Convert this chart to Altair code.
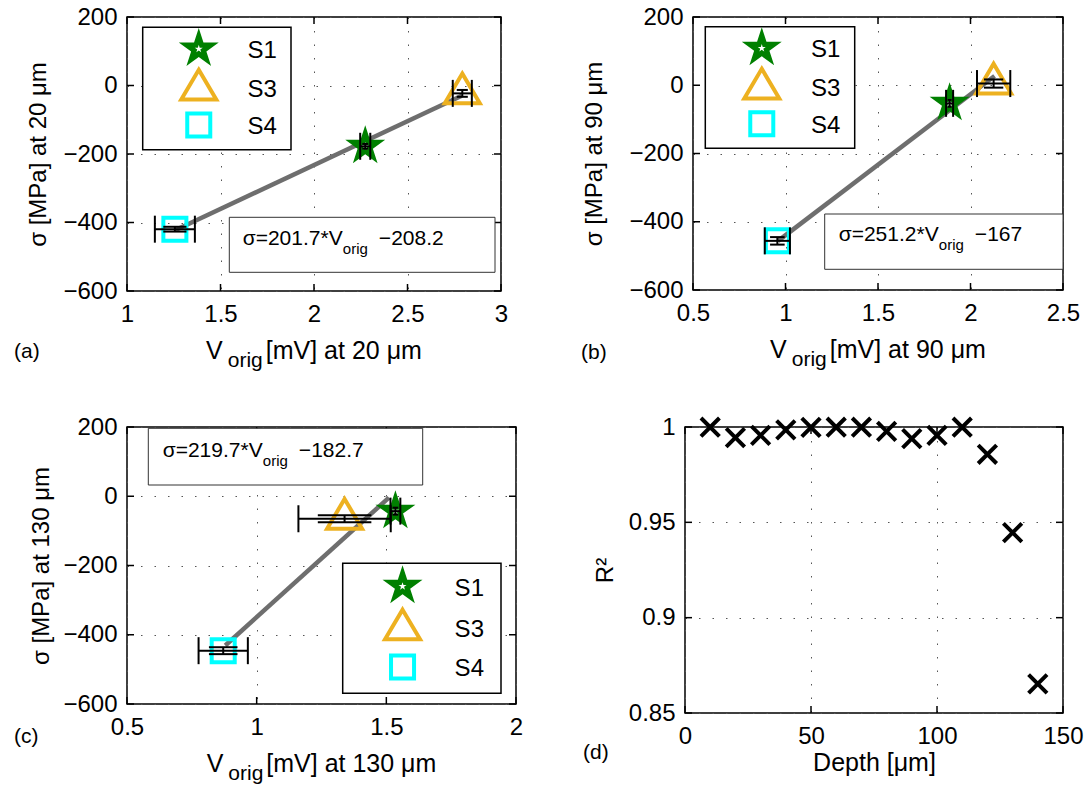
import math
import altair as alt
import pandas as pd

FONT = "Liberation Sans"
SERIES = ["S1", "S3", "S4"]
GREEN = "#008000"
ORANGE = "#EDB120"
CYAN = "#00FFFF"
GRAY = "#6E6E6E"

# ---------------- panel (a) : 20 um ----------------
A_V = [2.274, 2.793, 1.256]
A_SIGMA = [-177.5, -23.0, -419.5]
A_VERR = [0.027, 0.051, 0.107]
A_SERR = [7, 10, 7]
A_FIT_V = [1.26, 2.79]
A_FIT_SIGMA = [-422, -30]
A_EQ = ["σ=201.7*V", "orig", "−208.2"]
A_XTICKS = [1, 1.5, 2, 2.5, 3]

# ---------------- panel (b) : 90 um ----------------
B_V = [1.887, 2.125, 0.956]
B_SIGMA = [-53, 5, -456]
B_VERR = [0.019, 0.090, 0.068]
B_SERR = [10, 12, 11]
B_FIT_V = [0.96, 2.13]
B_FIT_SIGMA = [-456, 27]
B_EQ = ["σ=251.2*V", "orig", "−167"]
B_XTICKS = [0.5, 1, 1.5, 2, 2.5]

# ---------------- panel (c) : 130 um ----------------
C_V = [1.535, 1.339, 0.871]
C_SIGMA = [-43, -65, -446]
C_VERR = [0.019, 0.178, 0.095]
C_SERR = [10, 10, 10]
C_FIT_V = [0.879, 1.51]
C_FIT_SIGMA = [-431, -4]
C_EQ = ["σ=219.7*V", "orig", "−182.7"]
C_XTICKS = [0.5, 1, 1.5, 2]

SIGMA_TICKS = [-600, -400, -200, 0, 200]

# ---------------- panel (d) : R^2 vs depth ----------------
D_DEPTH = [10, 20, 30, 40, 50, 60, 70, 80, 90, 100, 110, 120, 130, 140]
D_R2 = [0.9999, 0.9944, 0.9956, 0.9985, 0.9998, 0.9999, 0.9999,
        0.9977, 0.9939, 0.9956, 0.9999, 0.9857, 0.9446, 0.8653]
D_XTICKS = [0, 50, 100, 150]
D_YTICKS = [0.85, 0.9, 0.95, 1.0]

# ---------------- styling helpers ----------------
CW = {"σ": 0.58, "=": 0.584, ".": 0.278, "*": 0.389, "V": 0.667, " ": 0.278,
      "−": 0.584, "o": 0.556, "r": 0.333, "i": 0.222, "g": 0.556, "[": 0.278,
      "]": 0.278, "m": 0.833, "a": 0.556, "t": 0.278, "μ": 0.576}


def text_w(s, size):
    return sum(CW.get(ch, 0.556) for ch in s) * size


def star_path(r_in=0.382):
    pts = []
    for k in range(10):
        r = 1.0 if k % 2 == 0 else r_in
        a = -math.pi / 2 + k * math.pi / 5
        pts.append(f"{r * math.cos(a):.4f},{r * math.sin(a):.4f}")
    return "M" + "L".join(pts) + "Z"


STAR = star_path()
TRI = "M0,-1.13L1,0.565L-1,0.565Z"
XSHAPE = "M-1,-1L1,1M-1,1L1,-1"
STAR_SIZE = 1764
TRI_SIZE = 1225
SQ_SIZE = 530
ONE = pd.DataFrame({"k": [0]})


def axis_common(**kw):
    base = dict(grid=True, gridDash=[1.5, 12], gridColor="#555555", gridWidth=1,
                ticks=False, tickSize=0, domain=False, labelFont=FONT,
                labelFontSize=24, labelColor="black", labelOverlap=False)
    base.update(kw)
    return alt.Axis(**base)


def txt(s, x, y, size, align="left", baseline="alphabetic"):
    return alt.Chart(pd.DataFrame({"t": [s]})).mark_text(
        font=FONT, fontSize=size, align=align, baseline=baseline, color="black"
    ).encode(x=alt.value(x), y=alt.value(y), text="t:N")


def inner_ticks(xticks, yticks, X, Y, W, H):
    xt = pd.DataFrame({"t": xticks})
    yt = pd.DataFrame({"t": yticks})
    L = 7
    out = []
    for (a, b) in [(H, H - L), (0, L)]:
        out.append(alt.Chart(xt).mark_rule(color="black", strokeWidth=1.5).encode(
            x=X("t"), y=alt.value(a), y2=alt.value(b)))
    for (a, b) in [(0, L), (W - L, W)]:
        out.append(alt.Chart(yt).mark_rule(color="black", strokeWidth=1.5).encode(
            y=Y("t"), x=alt.value(a), x2=alt.value(b)))
    return out


def legend_layers(box):
    x1, y1, x2, y2 = box
    bw, bh = x2 - x1, y2 - y1
    sx = x1 + 0.378 * bw
    tx = x1 + 0.707 * bw
    sym_y = [y1 + 0.177 * bh, y1 + 0.509 * bh, y1 + 0.798 * bh]
    txt_y = [y1 + 0.194 * bh, y1 + 0.510 * bh, y1 + 0.815 * bh]
    out = [alt.Chart(ONE).mark_rect(fill="white", stroke="black", strokeWidth=1.5).encode(
        x=alt.value(x1), x2=alt.value(x2), y=alt.value(y1), y2=alt.value(y2))]
    out.append(alt.Chart(ONE).mark_point(shape=STAR, filled=True, color=GREEN, size=STAR_SIZE,
                                         opacity=1).encode(x=alt.value(sx), y=alt.value(sym_y[0])))
    out.append(alt.Chart(ONE).mark_point(shape=STAR, filled=True, color="white", size=70,
                                         opacity=1).encode(x=alt.value(sx), y=alt.value(sym_y[0])))
    out.append(alt.Chart(ONE).mark_point(shape=TRI, filled=False, color=ORANGE, strokeWidth=4,
                                         size=TRI_SIZE, opacity=1).encode(x=alt.value(sx), y=alt.value(sym_y[1])))
    out.append(alt.Chart(ONE).mark_point(shape="square", filled=False, color=CYAN, strokeWidth=4,
                                         size=SQ_SIZE, opacity=1).encode(x=alt.value(sx), y=alt.value(sym_y[2])))
    for name, ty in zip(SERIES, txt_y):
        out.append(txt(name, tx, ty, 24, baseline="middle"))
    return out


def eq_layers(eq, box, start):
    x1, y1, x2, y2 = box
    x0, yb = start
    out = [alt.Chart(ONE).mark_rect(fill="white", stroke="#333333", strokeWidth=1).encode(
        x=alt.value(x1), x2=alt.value(x2), y=alt.value(y1), y2=alt.value(y2))]
    w1 = text_w(eq[0], 21)
    out.append(txt(eq[0], x0, yb, 21))
    out.append(txt(eq[1], x0 + w1 + 1, yb + 9.5, 15))
    out.append(txt(eq[2], x0 + w1 + 1 + text_w(eq[1], 15) + 11, yb, 21))
    return out


def xtitle_layers(rest, W, H):
    wV = text_w("V", 25)
    wO = text_w("orig", 21)
    wR = text_w(rest, 25)
    total = wV + 5 + wO + 3 + wR
    x0 = W / 2 - total / 2
    return [txt("V", x0, H + 68, 25),
            txt("orig", x0 + wV + 5, H + 76, 21),
            txt(rest, x0 + wV + 5 + wO + 3, H + 68, 25)]


def scatter_panel(V, SIG, VERR, SERR, FIT_V, FIT_S, EQ, xticks, W, H, ytitle, ytpad,
                  eqbox, eqstart, legbox, xrest, tag, tagpos):
    xs = alt.Scale(domain=[xticks[0], xticks[-1]], nice=False, zero=False)
    ys = alt.Scale(domain=[SIGMA_TICKS[0], SIGMA_TICKS[-1]], nice=False, zero=False)
    xaxis = axis_common(values=xticks, format="~g", labelPadding=11, labelFlush=False, title=None)
    yaxis = axis_common(values=SIGMA_TICKS, format="d", labelPadding=10, title=ytitle,
                        titleFont=FONT, titleFontSize=24, titleFontWeight="normal",
                        titleColor="black", titlePadding=ytpad)

    def X(f):
        return alt.X(f"{f}:Q", scale=xs, axis=xaxis)

    def Y(f):
        return alt.Y(f"{f}:Q", scale=ys, axis=yaxis)

    pts = pd.DataFrame({"series": SERIES, "v": V, "s": SIG, "verr": VERR, "serr": SERR})
    pts["vlo"] = pts.v - pts.verr
    pts["vhi"] = pts.v + pts.verr
    pts["slo"] = pts.s - pts.serr
    pts["shi"] = pts.s + pts.serr
    pts["clo"] = pts.v - 0.58 * pts.verr
    pts["chi"] = pts.v + 0.58 * pts.verr
    hcaps = pd.concat([pd.DataFrame({"cv": pts.vlo, "cs": pts.s}),
                       pd.DataFrame({"cv": pts.vhi, "cs": pts.s})])
    vcaps = pd.concat([pd.DataFrame({"c1": pts.clo, "c2": pts.chi, "cy": pts.slo}),
                       pd.DataFrame({"c1": pts.clo, "c2": pts.chi, "cy": pts.shi})])
    fit = pd.DataFrame({"v": FIT_V, "s": FIT_S})

    layers = []
    layers.append(alt.Chart(fit).mark_line(color=GRAY, strokeWidth=4.5).encode(x=X("v"), y=Y("s")))
    layers += inner_ticks(xticks, SIGMA_TICKS, X, Y, W, H)
    base = alt.Chart(pts)
    layers.append(base.transform_filter(alt.datum.series == "S1").mark_point(
        shape=STAR, filled=True, color=GREEN, size=STAR_SIZE, opacity=1).encode(x=X("v"), y=Y("s")))
    layers.append(base.transform_filter(alt.datum.series == "S1").mark_point(
        shape=STAR, filled=True, color="white", size=70, opacity=1).encode(x=X("v"), y=Y("s")))
    layers.append(base.transform_filter(alt.datum.series == "S3").mark_point(
        shape=TRI, filled=False, color=ORANGE, strokeWidth=4, size=TRI_SIZE, opacity=1).encode(x=X("v"), y=Y("s")))
    layers.append(base.transform_filter(alt.datum.series == "S4").mark_point(
        shape="square", filled=False, color=CYAN, strokeWidth=4, size=SQ_SIZE, opacity=1).encode(x=X("v"), y=Y("s")))
    layers.append(base.mark_rule(color="black", strokeWidth=2).encode(x=X("vlo"), x2=alt.X2("vhi"), y=Y("s")))
    layers.append(alt.Chart(hcaps).mark_tick(orient="vertical", size=27, thickness=2, color="black",
                                             opacity=1).encode(x=X("cv"), y=Y("cs")))
    layers.append(base.mark_rule(color="black", strokeWidth=2).encode(x=X("v"), y=Y("slo"), y2=alt.Y2("shi")))
    layers.append(alt.Chart(vcaps).mark_rule(color="black", strokeWidth=2).encode(
        x=X("c1"), x2=alt.X2("c2"), y=Y("cy")))
    layers += legend_layers(legbox)
    layers += eq_layers(EQ, eqbox, eqstart)
    layers += xtitle_layers(xrest, W, H)
    layers.append(txt(tag, tagpos[0], H + tagpos[1], 21, baseline="middle"))
    return alt.layer(*layers).properties(width=W, height=H)


def r2_panel(W, H, tag, tagpos):
    xs = alt.Scale(domain=[D_XTICKS[0], D_XTICKS[-1]], nice=False, zero=False)
    ys = alt.Scale(domain=[D_YTICKS[0], D_YTICKS[-1]], nice=False, zero=False)
    xaxis = axis_common(values=D_XTICKS, format="d", labelPadding=11, labelFlush=False,
                        title="Depth [μm]", titleFont=FONT, titleFontSize=25,
                        titleFontWeight="normal", titleColor="black", titlePadding=2)
    yaxis = axis_common(values=D_YTICKS, format=".2~f", labelPadding=10, title="R²",
                        titleFont=FONT, titleFontSize=24, titleFontWeight="normal",
                        titleColor="black", titlePadding=11)

    def X(f):
        return alt.X(f"{f}:Q", scale=xs, axis=xaxis)

    def Y(f):
        return alt.Y(f"{f}:Q", scale=ys, axis=yaxis)

    df = pd.DataFrame({"depth": D_DEPTH, "r2": D_R2})
    layers = [alt.Chart(df).mark_point(shape=XSHAPE, filled=False, color="black", strokeWidth=4,
                                       size=340, opacity=1).encode(x=X("depth"), y=Y("r2"))]
    layers += inner_ticks(D_XTICKS, D_YTICKS, X, Y, W, H)
    layers.append(txt(tag, tagpos[0], H + tagpos[1], 21, baseline="middle"))
    return alt.layer(*layers).properties(width=W, height=H)


pa = scatter_panel(A_V, A_SIGMA, A_VERR, A_SERR, A_FIT_V, A_FIT_SIGMA, A_EQ, A_XTICKS,
                   374, 274, "σ [MPa] at 20 μm", 12,
                   (102.3, 200.3, 368, 255.3), (115.7, 227.7), (15.7, 10.3, 164, 132.7),
                   "[mV] at 20 μm", "(a)", (-113, 61))
pb = scatter_panel(B_V, B_SIGMA, B_VERR, B_SERR, B_FIT_V, B_FIT_SIGMA, B_EQ, B_XTICKS,
                   370, 273, "σ [MPa] at 90 μm", 22,
                   (131.7, 197, 370, 252.3), (145.7, 223.7), (12.3, 9.7, 161.7, 131.3),
                   "[mV] at 90 μm", "(b)", (-112, 63))
pc = scatter_panel(C_V, C_SIGMA, C_VERR, C_SERR, C_FIT_V, C_FIT_SIGMA, C_EQ, C_XTICKS,
                   389, 277, "σ [MPa] at 130 μm", 9,
                   (21.3, 1.3, 295.7, 58), (35.7, 29.7), (215.7, 136.3, 374, 266.3),
                   "[mV] at 130 μm", "(c)", (-113, 33))
pd_ = r2_panel(378, 286, "(d)", (-102, 40))

row1 = alt.hconcat(pa, pb, spacing=71)
row2 = alt.hconcat(pc, pd_, spacing=58)
chart = alt.vconcat(row1, row2, spacing=37).properties(
    padding={"left": 13, "top": 4, "right": 0, "bottom": 0},
    background="white",
).configure_view(stroke="black", strokeWidth=1.5)

chart.save("out.html", embed_options={"renderer": "svg", "actions": False})
